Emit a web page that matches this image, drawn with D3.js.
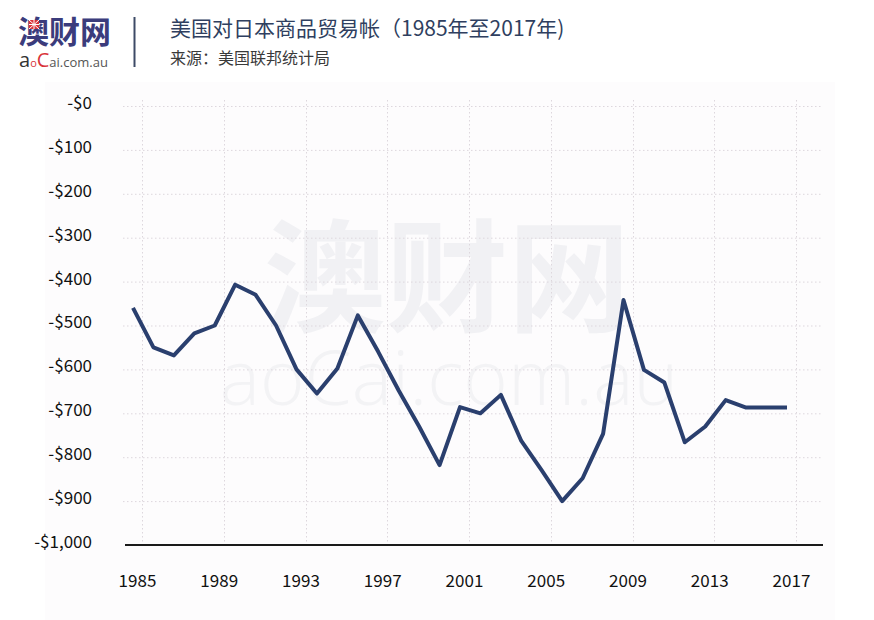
<!DOCTYPE html>
<html>
<head>
<meta charset="utf-8">
<script src="https://cdn.jsdelivr.net/npm/d3@7"></script>
<style>
  body { margin: 0; background: #fff; }
  svg { display: block; font-family: "Noto Sans CJK SC", "Noto Sans", sans-serif; }
</style>
</head>
<body>
<div id="chart"></div>
<script>
const years = d3.range(1985, 2018);
const balance = [-460, -550, -568, -518, -500, -407, -430, -500, -600, -655, -598, -477,
                 -560, -648, -730, -818, -686, -700, -658, -763, -830, -900, -848, -747,
                 -442, -601, -630, -766, -730, -670, -687, -687, -687];
const yTicks = [0, -100, -200, -300, -400, -500, -600, -700, -800, -900, -1000];
const xTicks = [1985, 1989, 1993, 1997, 2001, 2005, 2009, 2013, 2017];

const width = 874, height = 620;
const svg = d3.select("#chart").append("svg")
              .attr("width", width)
              .attr("height", height);

// faint panel behind the plot
svg.append("rect")
   .attr("x", 45).attr("y", 82)
   .attr("width", 790).attr("height", 538)
   .attr("fill", "#fdfcfd");

const x = d3.scaleLinear().domain([1985, 2017]).range([133, 787]);
const y = d3.scaleLinear().domain([-1000, 0]).range([545, 106]);

// watermark
svg.append("text")
   .attr("x", 447).attr("y", 322)
   .attr("text-anchor", "middle")
   .attr("font-size", 122).attr("font-weight", 700)
   .attr("fill", "#f1f1f4")
   .text("澳财网");
svg.append("text")
   .attr("x", 449).attr("y", 405)
   .attr("text-anchor", "middle")
   .attr("font-family", "'Open Sans', sans-serif")
   .attr("font-size", 76).attr("font-weight", 300)
   .attr("fill", "#f3f3f5")
   .text("aoCai.com.au");

// grid
const grid = svg.append("g").attr("stroke", "#ddd7dd").attr("stroke-width", 1).attr("stroke-dasharray", "1.5,2.5");
grid.selectAll("line.h")
    .data(yTicks.slice(0, -1))
    .enter().append("line")
      .attr("x1", 123).attr("x2", 823)
      .attr("y1", d => y(d) + 0.5).attr("y2", d => y(d) + 0.5);
grid.selectAll("line.v")
    .data(xTicks)
    .enter().append("line")
      .attr("x1", d => Math.round(x(d + 0.45)) + 0.5).attr("x2", d => Math.round(x(d + 0.45)) + 0.5)
      .attr("y1", 100).attr("y2", 545);

// x axis baseline
svg.append("line")
   .attr("x1", 125).attr("x2", 823)
   .attr("y1", y(-1000)).attr("y2", y(-1000))
   .attr("stroke", "#1a1a1a").attr("stroke-width", 2);

// y labels
svg.append("g")
   .selectAll("text")
   .data(yTicks)
   .enter().append("text")
     .attr("x", 92)
     .attr("y", d => y(d) - 3)
     .attr("dy", "0.35em")
     .attr("text-anchor", "end")
     .attr("font-size", 17)
     .attr("fill", "#111")
     .text(d => "-$" + d3.format(",")(Math.abs(d)));

// x labels
svg.append("g")
   .selectAll("text")
   .data(xTicks)
   .enter().append("text")
     .attr("x", d => x(d + 0.22))
     .attr("y", 587)
     .attr("text-anchor", "middle")
     .attr("font-size", 17)
     .attr("fill", "#111")
     .text(d => d);

// the series
const line = d3.line()
               .x((d, i) => x(years[i]))
               .y(d => y(d));
svg.append("path")
   .datum(balance)
   .attr("d", line)
   .attr("fill", "none")
   .attr("stroke", "#2a3f6e")
   .attr("stroke-width", 4)
   .attr("stroke-linejoin", "round");

// header: logo
const logo = svg.append("g");
logo.append("text")
    .attr("x", 18).attr("y", 43)
    .attr("font-size", 31).attr("font-weight", 700)
    .attr("fill", "#3b3c7c")
    .text("澳财网");
logo.append("rect")
    .attr("x", 29).attr("y", 20).attr("width", 10).attr("height", 9)
    .attr("fill", "#d9343a");
logo.append("path")
    .attr("d", "M29,24.5H39M34,20V29M29,20L39,29M39,20L29,29")
    .attr("stroke", "#fff").attr("stroke-width", 1);
const dom = logo.append("text")
    .attr("x", 19).attr("y", 67)
    .attr("font-family", "'Open Sans', sans-serif");
dom.append("tspan").attr("font-size", 20).attr("fill", "#333").text("a");
dom.append("tspan").attr("font-size", 11).attr("fill", "#d9343a").text("o");
dom.append("tspan").attr("font-size", 20).attr("fill", "#d9343a").text("C");
dom.append("tspan").attr("font-size", 13).attr("fill", "#555").text("ai.com.au");

svg.append("line")
   .attr("x1", 134.5).attr("x2", 134.5)
   .attr("y1", 17).attr("y2", 67)
   .attr("stroke", "#3d4a66").attr("stroke-width", 2);

svg.append("text")
   .attr("x", 170).attr("y", 36)
   .attr("font-size", 21)
   .attr("fill", "#2f3f60")
   .text("美国对日本商品贸易帐（1985年至2017年)");
svg.append("text")
   .attr("x", 170).attr("y", 64)
   .attr("font-size", 16)
   .attr("fill", "#3a3a3a")
   .text("来源：美国联邦统计局");
</script>
</body>
</html>
